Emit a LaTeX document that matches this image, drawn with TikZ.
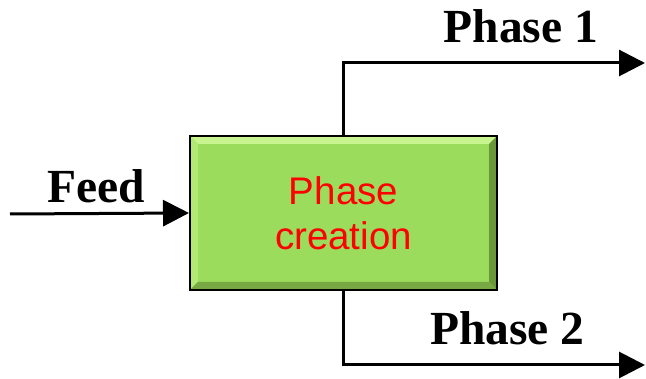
\documentclass[tikz,border=0pt]{standalone}
\usepackage{fontspec}
\setmainfont{Liberation Serif}
\setsansfont{Liberation Sans}
\usetikzlibrary{arrows.meta}

\definecolor{BoxGreen}{HTML}{9CDC5C}
\definecolor{BevelTop}{HTML}{C8F590}
\definecolor{BevelLeft}{HTML}{B2E874}
\definecolor{BevelRight}{HTML}{6A9838}
\definecolor{BevelBottom}{HTML}{78A844}
\definecolor{LabelRed}{HTML}{FF0000}

\tikzset{
  flow/.style={line width=3pt,-{Triangle[length=26pt,width=26pt]}},
  stream/.style={font=\bfseries\fontsize{47.5}{50}\selectfont,anchor=base,inner sep=0pt},
  bevel/.style={
    path picture={
      \fill[BevelTop] (path picture bounding box.north west) -- (path picture bounding box.north east)
        -- ([shift={(-8pt,-8pt)}]path picture bounding box.north east) -- ([shift={(8pt,-8pt)}]path picture bounding box.north west) -- cycle;
      \fill[BevelLeft] (path picture bounding box.north west) -- ([shift={(8pt,-8pt)}]path picture bounding box.north west)
        -- ([shift={(8pt,8pt)}]path picture bounding box.south west) -- (path picture bounding box.south west) -- cycle;
      \fill[BevelRight] (path picture bounding box.north east) -- ([shift={(-8pt,-8pt)}]path picture bounding box.north east)
        -- ([shift={(-8pt,8pt)}]path picture bounding box.south east) -- (path picture bounding box.south east) -- cycle;
      \fill[BevelBottom] (path picture bounding box.south west) -- ([shift={(8pt,8pt)}]path picture bounding box.south west)
        -- ([shift={(-8pt,8pt)}]path picture bounding box.south east) -- (path picture bounding box.south east) -- cycle;
    }},
  unitbox/.style={draw=black,line width=2pt,fill=BoxGreen,bevel,
    minimum width=307pt,minimum height=154pt,align=center,
    text=LabelRed,font=\sffamily\fontsize{38.5}{45}\selectfont}
}

\begin{document}
\begin{tikzpicture}[x=1pt,y=-1pt]
  \useasboundingbox (0,0) rectangle (646,379);

  % Separation unit
  \node[unitbox] (box) at (343.5,213) {Phase\\creation};

  % Feed stream (in)
  \coordinate (feedin) at (10,214);
  \draw[flow] (feedin) -- (box.west);
  \node[stream] (feed) at (96.5,203) {Feed};

  % Product streams (out)
  \coordinate (ph1end) at (645,63);
  \draw[flow] (box.north) |- (ph1end);
  \node[stream] (ph1) at (521,43) {Phase 1};

  \coordinate (ph2end) at (645,365);
  \draw[flow] (box.south) |- (ph2end);
  \node[stream] (ph2) at (507.5,345) {Phase 2};
\end{tikzpicture}
\end{document}
